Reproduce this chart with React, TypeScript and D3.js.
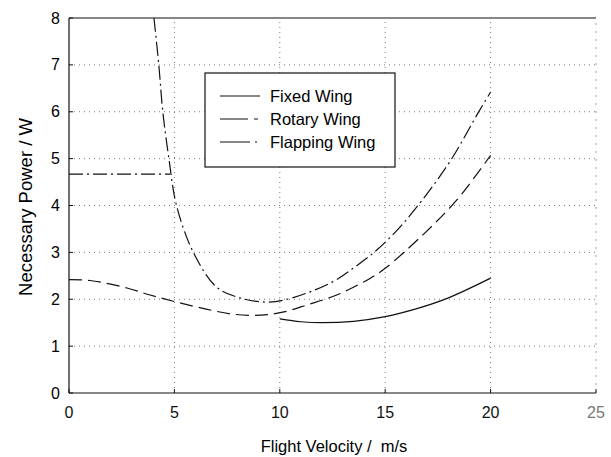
import React, { useEffect, useRef } from 'react';
import * as d3 from 'd3';

// values
const xTicks = [0, 5, 10, 15, 20, 25];
const yTicks = [0, 1, 2, 3, 4, 5, 6, 7, 8];

const fixedV = [10, 11, 12, 13.5, 15, 16.5, 18, 20];
const fixedP = [1.58, 1.52, 1.5, 1.53, 1.63, 1.8, 2.03, 2.45];

const rotaryV = [0, 1, 2.75, 3.85, 5.1, 6.5, 7.8, 9.1, 10.2, 11.3, 12.7, 14.3, 15, 16.8, 18.4, 20];
const rotaryP = [2.42, 2.4, 2.24, 2.09, 1.94, 1.79, 1.68, 1.66, 1.73, 1.88, 2.09, 2.45, 2.66, 3.38, 4.12, 5.07];

const flapHoverV = [0, 4.8];
const flapHoverP = [4.67, 4.67];

const flapV = [4.03, 4.26, 4.45, 4.74, 5.1, 5.9, 7.0, 8.1, 9.4, 10.6, 12.5, 13.6, 14.6, 15.7, 17.0, 18.2, 19.4, 20];
const flapP = [8, 7, 6, 5, 4, 3, 2.26, 2.03, 1.94, 2.03, 2.37, 2.7, 3.05, 3.54, 4.26, 5.03, 5.97, 6.42];

const legendItems = [
  { label: 'Fixed Wing', dash: null },
  { label: 'Rotary Wing', dash: '28,6,4,6' },
  { label: 'Flapping Wing', dash: '30,5,2,5' },
];

const App = () => {
  const svgRef = useRef<SVGSVGElement>(null);

  useEffect(() => {
    const width = 611;
    const height = 457;
    const margin = { left: 69, right: 15, top: 18, bottom: 64 };
    const font = "'Liberation Sans', Arial, sans-serif";

    const svg = d3.select(svgRef.current);
    svg.selectAll('*').remove();
    svg.attr('width', width).attr('height', height);

    svg.append('rect').attr('width', width).attr('height', height).attr('fill', '#fff');

    const x = d3.scaleLinear().domain([0, 25]).range([margin.left, width - margin.right]);
    const y = d3.scaleLinear().domain([0, 8]).range([height - margin.bottom, margin.top]);

    // dotted grid
    const grid = svg.append('g').attr('stroke', '#555').attr('stroke-width', 0.8).attr('stroke-dasharray', '1,4');
    xTicks.slice(1, -1).forEach(t => {
      grid.append('line').attr('x1', x(t)).attr('x2', x(t)).attr('y1', y(0)).attr('y2', y(8));
    });
    yTicks.slice(1, -1).forEach(t => {
      grid.append('line').attr('x1', x(0)).attr('x2', x(25)).attr('y1', y(t)).attr('y2', y(t));
    });

    // frame (right edge is faint in the scan)
    svg.append('line').attr('x1', x(0)).attr('x2', x(0)).attr('y1', y(0)).attr('y2', y(8)).attr('stroke', '#111').attr('stroke-width', 1.2);
    svg.append('line').attr('x1', x(0)).attr('x2', x(25)).attr('y1', y(0)).attr('y2', y(0)).attr('stroke', '#111').attr('stroke-width', 1.2);
    svg.append('line').attr('x1', x(0)).attr('x2', x(25)).attr('y1', y(8)).attr('y2', y(8)).attr('stroke', '#111').attr('stroke-width', 1.2);
    svg.append('line').attr('x1', x(25)).attr('x2', x(25)).attr('y1', y(0)).attr('y2', y(8))
      .attr('stroke', '#888').attr('stroke-width', 0.8).attr('stroke-dasharray', '2,6');

    // ticks + labels
    yTicks.forEach(t => {
      svg.append('line').attr('x1', x(0)).attr('x2', x(0) + 4).attr('y1', y(t)).attr('y2', y(t)).attr('stroke', '#111');
      svg.append('text').attr('x', x(0) - 9).attr('y', y(t)).attr('dy', '0.35em')
        .attr('text-anchor', 'end').attr('font-family', font).attr('font-size', 16).text(t);
    });
    xTicks.forEach(t => {
      svg.append('line').attr('x1', x(t)).attr('x2', x(t)).attr('y1', y(0)).attr('y2', y(0) - 4).attr('stroke', '#111');
      svg.append('text').attr('x', x(t)).attr('y', y(0) + 25).attr('text-anchor', 'middle')
        .attr('font-family', font).attr('font-size', 16).attr('fill', t === 25 ? '#777' : '#111').text(t);
    });

    // axis titles
    svg.append('text').attr('x', 334).attr('y', 452).attr('text-anchor', 'middle')
      .attr('font-family', font).attr('font-size', 16.5).attr('xml:space', 'preserve').text('Flight Velocity /  m/s');
    svg.append('text').attr('transform', `translate(32,207) rotate(-90)`).attr('text-anchor', 'middle')
      .attr('font-family', font).attr('font-size', 18.5).text('Necessary Power / W');

    const draw = (vs: number[], ps: number[], dash: string | null) => {
      const pts = vs.map((v, i) => [x(v), y(ps[i])] as [number, number]);
      svg.append('path').attr('d', d3.line().curve(d3.curveCatmullRom.alpha(0.5))(pts))
        .attr('fill', 'none').attr('stroke', '#111').attr('stroke-width', 1.2)
        .attr('stroke-dasharray', dash);
    };

    draw(fixedV, fixedP, null);
    draw(rotaryV, rotaryP, '13,6');
    draw(flapHoverV, flapHoverP, '14,4,2,4');
    draw(flapV, flapP, '14,4,2,4');

    // legend
    const lg = svg.append('g');
    lg.append('rect').attr('x', 205).attr('y', 73).attr('width', 190).attr('height', 94)
      .attr('fill', '#fff').attr('stroke', '#111').attr('stroke-width', 1.2);
    legendItems.forEach((d, i) => {
      const yy = 96 + i * 23;
      lg.append('line').attr('x1', 220).attr('x2', 260).attr('y1', yy).attr('y2', yy)
        .attr('stroke', '#111').attr('stroke-width', 1.2).attr('stroke-dasharray', d.dash);
      lg.append('text').attr('x', 270).attr('y', yy).attr('dy', '0.35em')
        .attr('font-family', font).attr('font-size', 16.5).text(d.label);
    });
  }, []);

  return <svg ref={svgRef} style={{ position: 'absolute', left: 0, top: 0 }} />;
};

export default App;
